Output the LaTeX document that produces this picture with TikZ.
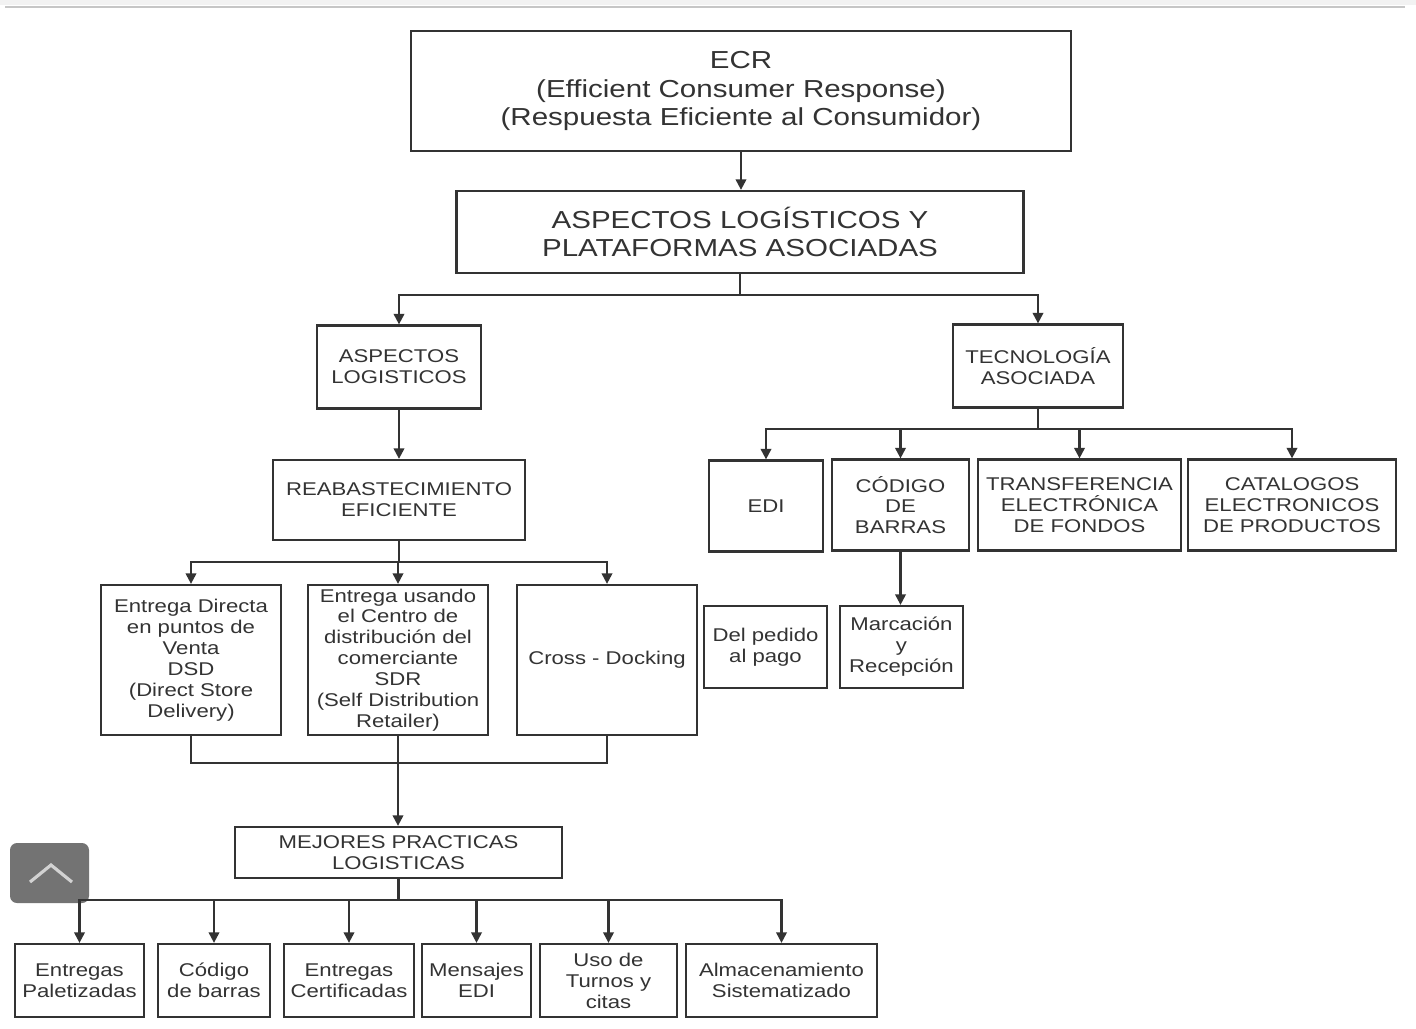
\documentclass[tikz,border=0pt]{standalone}
\usepackage{fontspec}
\setmainfont{Liberation Sans}[FakeStretch=1.2]
\usetikzlibrary{arrows.meta}

\begin{document}
\begin{tikzpicture}[x=0.02cm, y=-0.02cm,
  box/.style={draw=black!80, line width=1.3pt, align=center, inner sep=0pt, text=black!80},
  big/.style={font=\fontsize{14}{16.4}\selectfont},
  small/.style={font=\fontsize{10.5}{11.9}\selectfont},
  link/.style={draw=black!80, line width=1.2pt},
  arr/.style={link, -{Triangle[length=6pt,width=6pt]}}]

\useasboundingbox (0,0) rectangle (1416,1028);

% Page band at the top
\fill[gray!10] (0,0) rectangle (1416,5);
\draw[gray!45, line width=1.2pt] (5,7) -- (1405,7);

% Level 1
\node[box, big, minimum width=13.2cm, minimum height=2.4cm] (ecr) at (741,91)
  {ECR\\(Efficient Consumer Response)\\(Respuesta Eficiente al Consumidor)};

% Level 2
\node[box, big, minimum width=11.34cm, minimum height=1.64cm] (aspplat) at (740,232)
  {ASPECTOS LOGÍSTICOS Y\\PLATAFORMAS ASOCIADAS};

% Level 3
\node[box, small, minimum width=3.28cm, minimum height=1.66cm] (aslog) at (399,367)
  {ASPECTOS\\LOGISTICOS};
\node[box, small, minimum width=3.4cm, minimum height=1.66cm] (tec) at (1038,366)
  {TECNOLOGÍA\\ASOCIADA};

% Level 4
\node[box, small, minimum width=5.04cm, minimum height=1.6cm] (reab) at (399,500)
  {REABASTECIMIENTO\\EFICIENTE};
\node[box, small, minimum width=2.28cm, minimum height=1.82cm] (edi) at (766,506) {EDI};
\node[box, small, minimum width=2.74cm, minimum height=1.82cm] (cod) at (900.5,505)
  {CÓDIGO\\DE\\BARRAS};
\node[box, small, minimum width=4.06cm, minimum height=1.82cm] (trans) at (1079.5,505)
  {TRANSFERENCIA\\ELECTRÓNICA\\DE FONDOS};
\node[box, small, minimum width=4.16cm, minimum height=1.82cm] (cat) at (1292,505)
  {CATALOGOS\\ELECTRONICOS\\DE PRODUCTOS};

% Level 5
\node[box, small, minimum width=3.6cm, minimum height=3cm] (dsd) at (191,660)
  {Entrega Directa\\en puntos de\\Venta\\DSD\\(Direct Store\\Delivery)};
\node[box, small, minimum width=3.6cm, minimum height=3cm] (sdr) at (398,660)
  {Entrega usando\\el Centro de\\distribución del\\comerciante\\SDR\\(Self Distribution\\Retailer)};
\node[box, small, minimum width=3.6cm, minimum height=3cm] (cross) at (607,660)
  {Cross - Docking};
\node[box, small, minimum width=2.46cm, minimum height=1.64cm] (pedido) at (765.5,647)
  {Del pedido\\al pago};
\node[box, small, minimum width=2.46cm, minimum height=1.64cm] (marc) at (901.5,647)
  {Marcación\\y\\Recepción};

% Level 6
\node[box, small, minimum width=6.54cm, minimum height=1.02cm] (mej) at (398.5,852.5)
  {MEJORES PRACTICAS\\LOGISTICAS};

% Level 7
\node[box, small, minimum width=2.58cm, minimum height=1.46cm] (pal) at (79.5,980.5)
  {Entregas\\Paletizadas};
\node[box, small, minimum width=2.24cm, minimum height=1.46cm] (codb) at (214,980.5)
  {Código\\de barras};
\node[box, small, minimum width=2.6cm, minimum height=1.46cm] (cert) at (349,980.5)
  {Entregas\\Certificadas};
\node[box, small, minimum width=2.18cm, minimum height=1.46cm] (mens) at (476.5,980.5)
  {Mensajes\\EDI};
\node[box, small, minimum width=2.74cm, minimum height=1.46cm] (uso) at (608.5,980.5)
  {Uso de\\Turnos y\\citas};
\node[box, small, minimum width=3.82cm, minimum height=1.46cm] (alm) at (781.5,980.5)
  {Almacenamiento\\Sistematizado};

% Scroll button
\fill[black!55, rounded corners=4pt] (10,843) rectangle (89,903);
\draw[gray!35, line width=1.8pt] (30,882) -- (51,865) -- (72,882);

% Connectors
\draw[arr] (ecr.south) -- (ecr.south |- aspplat.north);
\draw[arr] (aspplat.south) -- ++(0,21) -| (aslog.north);
\draw[arr] (aspplat.south) -- ++(0,21) -| (tec.north);
\draw[arr] (aslog.south) -- (aslog.south |- reab.north);

\foreach \n in {edi, cod, trans, cat}
  \draw[arr] (tec.south) -- ++(0,20) -| (\n.north);
\draw[arr] (cod.south) -- (cod.south |- marc.north);

\foreach \n in {dsd, sdr, cross}
  \draw[arr] (reab.south) -- ++(0,21) -| (\n.north);

\draw[link] (dsd.south) -- ++(0,27) -| (cross.south);
\draw[arr] (sdr.south) -- (sdr.south |- mej.north);

\foreach \n in {pal, codb, cert, mens, uso, alm}
  \draw[arr] (mej.south) -- ++(0,21) -| (\n.north);

\end{tikzpicture}
\end{document}
